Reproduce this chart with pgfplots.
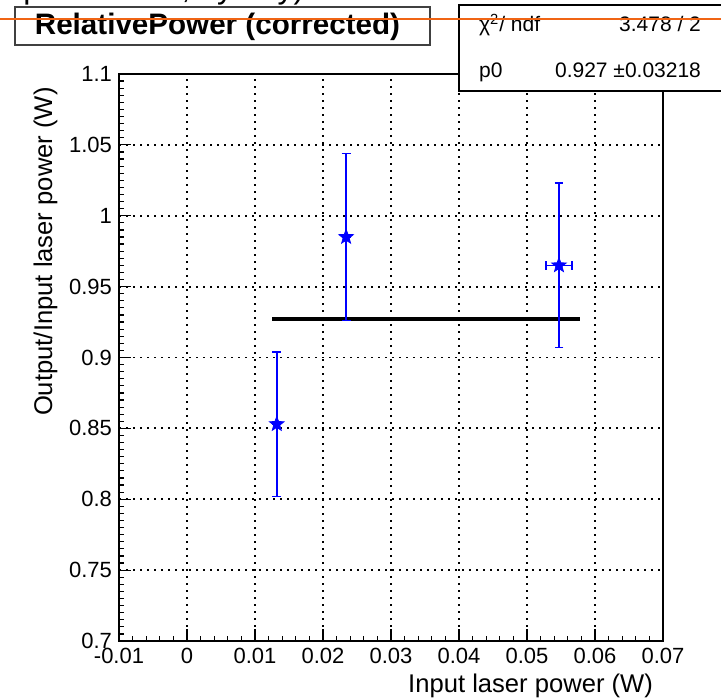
\documentclass[border=0pt]{standalone}
\usepackage{fontspec}
\setmainfont{Liberation Sans}
\usepackage{pgfplots}
\pgfplotsset{compat=1.18}
\definecolor{rorange}{RGB}{240,100,20}
\pgfdeclareplotmark{fstar}{%
\pgfpathmoveto{\pgfpointpolar{90}{\pgfplotmarksize}}%
\pgfpathlineto{\pgfpointpolar{126}{0.42\pgfplotmarksize}}%
\pgfpathlineto{\pgfpointpolar{162}{\pgfplotmarksize}}%
\pgfpathlineto{\pgfpointpolar{198}{0.42\pgfplotmarksize}}%
\pgfpathlineto{\pgfpointpolar{234}{\pgfplotmarksize}}%
\pgfpathlineto{\pgfpointpolar{270}{0.42\pgfplotmarksize}}%
\pgfpathlineto{\pgfpointpolar{306}{\pgfplotmarksize}}%
\pgfpathlineto{\pgfpointpolar{342}{0.42\pgfplotmarksize}}%
\pgfpathlineto{\pgfpointpolar{18}{\pgfplotmarksize}}%
\pgfpathlineto{\pgfpointpolar{54}{0.42\pgfplotmarksize}}%
\pgfpathclose\pgfusepathqfillstroke}
\begin{document}
\begin{tikzpicture}
\useasboundingbox (0,0) rectangle (360.5pt,349.5pt);
\begin{axis}[
  at={(59.5pt,29pt)}, anchor=south west,
  scale only axis, width=272pt, height=283.5pt,
  xmin=-0.01, xmax=0.07, ymin=0.7, ymax=1.1,
  xtick={-0.01,0,0.01,0.02,0.03,0.04,0.05,0.06,0.07},
  ytick={0.7,0.75,0.8,0.85,0.9,0.95,1,1.05,1.1},
  minor x tick num=4, minor y tick num=9,
  scaled x ticks=false, scaled y ticks=false,
  /pgf/number format/assume math mode=true,
  /pgf/number format/fixed,
  tick align=inside,
  xtick pos=bottom, ytick pos=left,
  major tick length=6pt, minor tick length=2.5pt,
  tick style={black, line width=0.6pt},
  axis line style={black, line width=1pt},
  grid=major,
  major grid style={black, line width=0.9pt, dash pattern=on 0.9pt off 2.6pt},
  tick label style={font=\fontsize{11}{13}\selectfont},
  xlabel={Input laser power (W)},
  ylabel={Output/Input laser power (W)},
  label style={font=\fontsize{12.8}{15}\selectfont},
  xlabel style={at={(axis description cs:0.9945,-0.09)}, anchor=base east},
  ylabel style={at={(axis description cs:-0.123,0.989)}, anchor=base east, rotate=0},
]
\addplot[black, line width=2.2pt, forget plot] coordinates {(0.0125,0.927) (0.0578,0.927)};
\addplot[blue, mark=fstar, mark size=3.8pt, only marks,
  error bars/.cd, y dir=both, y explicit, x dir=both, x explicit,
  error bar style={blue, line width=0.8pt},
  error mark options={blue, line width=0.8pt, mark size=2.2pt, rotate=90}]
  coordinates {
  (0.0132,0.853) +- (0,0.051)
  (0.0234,0.985) +- (0,0.059)
  (0.0547,0.965) +- (0.0019,0.058)
  };
\end{axis}
% title box
\draw[line width=1pt, black!75, fill=white] (7.5pt,327pt) rectangle (215pt,346pt);
\node[font=\bfseries\fontsize{14.8}{17}\selectfont, anchor=center] at (108.75pt,336.2pt) {RelativePower (corrected)};
% stats box
\draw[line width=0.8pt, black, fill=white] (229.5pt,304pt) rectangle (362pt,347pt);
\node[font=\fontsize{10.5}{12}\selectfont, anchor=base west] at (236pt,333.5pt) {χ\textsuperscript{2}/ ndf};
\node[font=\fontsize{10.5}{12}\selectfont, anchor=base east] at (354pt,333.5pt) {3.478 / 2};
\node[font=\fontsize{10.5}{12}\selectfont, anchor=base west] at (236pt,310.5pt) {p0};
\node[font=\fontsize{10.5}{12}\selectfont, anchor=base east] at (354pt,310.5pt) {0.927 ±0.03218};
% orange line
\draw[rorange, line width=1pt] (0,340pt) -- (360.5pt,340pt);
% cut-off top text
\node[font=\fontsize{16}{18}\selectfont, anchor=base west, inner sep=0pt] at (11.5pt,350.2pt) {power ratio, by day)};
\end{tikzpicture}
\end{document}
